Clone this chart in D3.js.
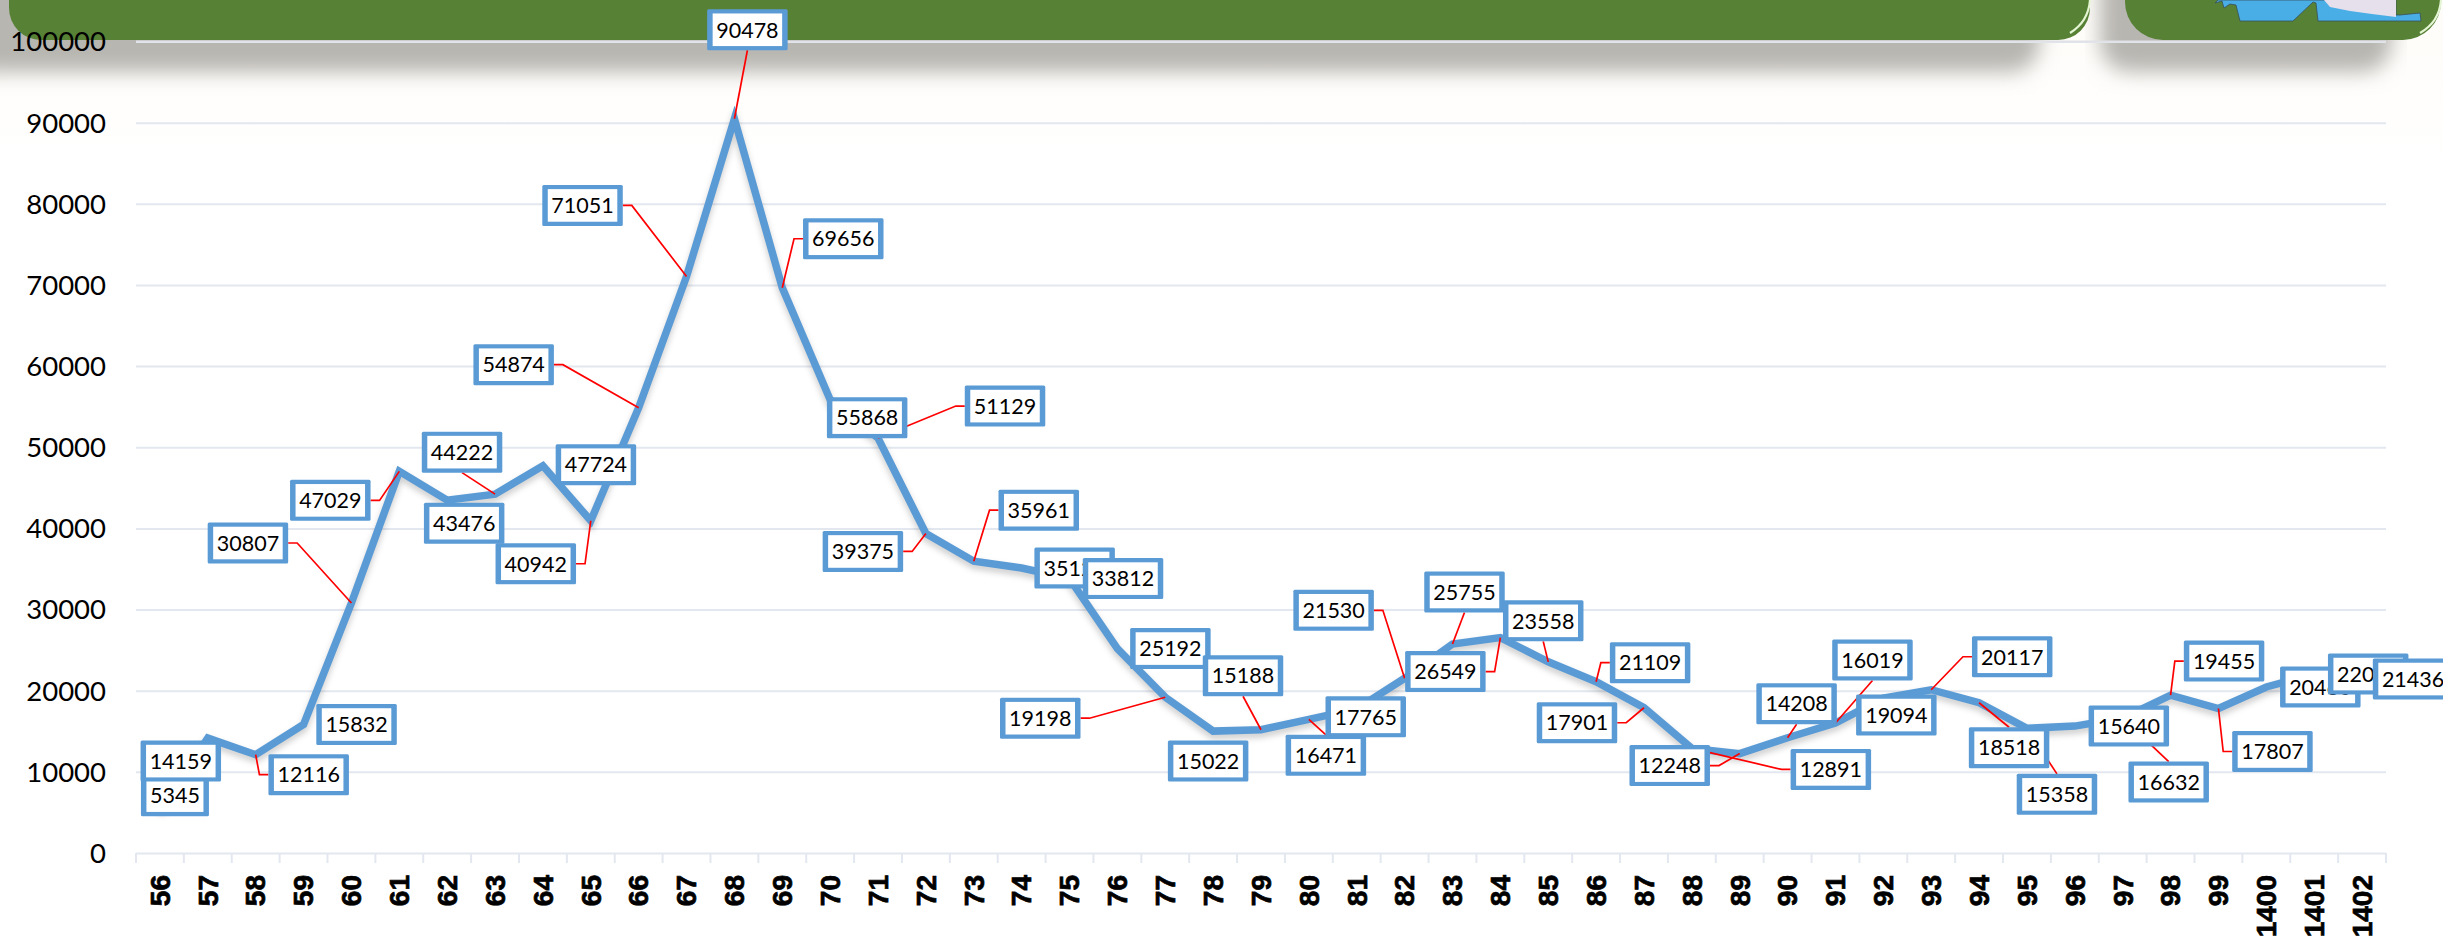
<!DOCTYPE html>
<html>
<head>
<meta charset="utf-8">
<script src="https://cdn.jsdelivr.net/npm/d3@7"></script>
<style>
html,body{margin:0;padding:0;background:#fff;overflow:hidden}
svg{display:block}
</style>
</head>
<body>
<div id="chart"></div>
<script>
const categories = ["56","57","58","59","60","61","62","63","64","65","66","67","68","69","70","71","72","73","74","75","76","77","78","79","80","81","82","83","84","85","86","87","88","89","90","91","92","93","94","95","96","97","98","99","1400","1401","1402"];
const values = [5345,14159,12116,15832,30807,47029,43476,44222,47724,40942,54874,71051,90478,69656,55868,51129,39375,35961,35120,33812,25192,19198,15022,15188,16471,17765,21530,25755,26549,23558,21109,17901,12891,12248,14208,16019,19094,20117,18518,15358,15640,16632,19455,17807,20460,22050,21436];
const yTicks = [0,10000,20000,30000,40000,50000,60000,70000,80000,90000,100000];

// Hand-placed label offsets from each point, and the side of the label its leader leaves from
const labelDx = [15,-27,53,53,-103.5,-69,17,-33,53,-55,-125,-104,13,61,37,127,-63,65,53,53.5,53,-125,-5,-18,17,9,-71,12,-55,-5,54,-67,139,-70,9,37,13,81,30,30,54,46,53.5,54,54,54,51];
const labelDy = [-14,23,20,0,-60,29,23,-42,-1,43,-43,-71,-89,-49,18,-32,18,-51,0,0,0,21,30,-54,36,8,-68,-52,34,-41,-19,15,21,12,-34,-63,17,-33,45,66,0,64,-34,43,0,0,0];
const leaderSide = ["","","l","","r","r","","b","","r","r","r","b","l","","l","r","l","","","","r","","b","t","","r","b","r","b","l","r","l","r","b","b","","l","t","t","","t","l","l","","",""];

const W = 2443, H = 939;
const margin = {left:136, right:57, top:41.5, bottom:86};
const innerRight = W - margin.right, baseY = H - margin.bottom;

const svg = d3.select("#chart").append("svg").attr("width",W).attr("height",H)
  .style("font-family","Lato, sans-serif");
const defs = svg.append("defs");
defs.append("filter").attr("id","blur").attr("x","-5%").attr("y","-80%").attr("width","110%").attr("height","260%")
  .append("feGaussianBlur").attr("stdDeviation",10);
const warm = defs.append("linearGradient").attr("id","warm").attr("x1",0).attr("x2",0).attr("y1",0).attr("y2",1);
warm.append("stop").attr("offset",0).attr("stop-color","#fefcf8");
warm.append("stop").attr("offset",1).attr("stop-color","#ffffff");

const x = d3.scaleBand().domain(categories).range([margin.left,innerRight]);
const y = d3.scaleLinear().domain([0,100000]).range([baseY,margin.top]);

// ---- decorated header behind the chart
const head = svg.append("g");
head.append("rect").attr("width",W).attr("height",170).attr("fill","url(#warm)");
head.append("rect").attr("x",-40).attr("y",-60).attr("width",2080).attr("height",132).attr("rx",30).attr("fill","#b8b6b1").attr("filter","url(#blur)");
head.append("rect").attr("x",2100).attr("y",-60).attr("width",292).attr("height",132).attr("rx",30).attr("fill","#b8b6b1").attr("filter","url(#blur)");

// ---- y axis + gridlines
const yAxis = svg.append("g").attr("transform",`translate(${margin.left},0)`)
  .call(d3.axisLeft(y).tickValues(yTicks).tickFormat(d3.format("d")).tickSize(-(innerRight-margin.left)).tickPadding(30));
yAxis.select(".domain").remove();
yAxis.selectAll(".tick line").attr("stroke","#e3e7ef").attr("stroke-width",2);
yAxis.selectAll(".tick text").remove();

// header panels
const panels = svg.append("g");
panels.append("rect").attr("x",9).attr("y",-60).attr("width",2081).attr("height",100).attr("rx",32).attr("fill","#578135");
panels.append("rect").attr("x",2125).attr("y",-60).attr("width",316).attr("height",100).attr("rx",38).attr("fill","#578135");
panels.append("path").attr("d","M2090,0 C2089,14 2083,25 2070,33").attr("fill","none").attr("stroke","#e4f5d4").attr("stroke-width",2.2);
panels.append("path").attr("d","M2441,0 C2440,14 2434,25 2420,33").attr("fill","none").attr("stroke","#e4f5d4").attr("stroke-width",2.2);
panels.append("path").attr("d","M2215,3 L2222,1 L2224,8 L2230,4 L2236,5 L2240,21 L2293,21 L2312,3 L2313,2 L2316,3 L2318,21 L2421,21 L2420,13 L2400,15 L2396,15 L2396,0 L2218,0 Z")
  .attr("fill","#4aaee6").attr("stroke","#37505c").attr("stroke-width",0.8);
panels.append("path").attr("d","M2324,0 L2330,7 L2350,11 L2372,14 L2396,17 L2396,0 Z").attr("fill","#e6e0ec");
panels.append("rect").attr("x",margin.left).attr("y",y(100000)-1).attr("width",innerRight-margin.left).attr("height",2).attr("fill","#e0e2e8");

// ---- x axis
const xAxis = svg.append("g").attr("transform",`translate(0,${baseY})`)
  .call(d3.axisBottom(x).tickSize(0).tickPadding(0));
xAxis.select(".domain").remove();
xAxis.selectAll(".tick text")
  .attr("transform","rotate(-90)")
  .attr("x",-22).attr("y",0).attr("dy","0.35em")
  .attr("text-anchor","end")
  .style("font-family","'Liberation Sans', Arial, sans-serif")
  .style("font-weight","bold").style("font-size","28px")
  .attr("fill","#000").attr("stroke","#000").attr("stroke-width",0.7);
const edges = categories.map(c=>x(c)).concat([innerRight]);
svg.append("g").selectAll("line").data(edges).join("line")
  .attr("x1",d=>d).attr("x2",d=>d).attr("y1",baseY).attr("y2",baseY+10)
  .attr("stroke","#e3e7ef").attr("stroke-width",2);

// y tick labels on top of the header
svg.append("g").selectAll("text").data(yTicks).join("text")
  .attr("x",106).attr("y",d=>y(d)).attr("dy","0.36em").attr("text-anchor","end")
  .style("font-size","27.5px").attr("fill","#000")
  .text(d3.format("d"));

// ---- line
const px = (d,i)=>x(categories[i])+x.bandwidth()/2;
const py = d=>y(d);
svg.append("path").datum(values)
  .attr("d",d3.line().x(px).y(py))
  .attr("fill","none").attr("stroke","#5b9bd5").attr("stroke-width",7.5)
  .attr("stroke-linejoin","miter").attr("stroke-miterlimit",10)
  .style("filter","drop-shadow(0 4px 3px rgba(0,0,0,0.2))");

// ---- labels and leaders
const labels = values.map((v,i)=>{
  const text = String(v), w = text.length===4 ? 68 : 80.5, h = 41;
  const cx = px(v,i)+labelDx[i], cy = py(v)+labelDy[i];
  return {text,w,h,cx,cy,side:leaderSide[i],px:px(v,i),py:py(v)};
});
const stub = 9;
const leaderPath = d=>{
  const p = d3.path();
  if(d.side==="r"){p.moveTo(d.cx+d.w/2,d.cy);p.lineTo(d.cx+d.w/2+stub,d.cy);}
  else if(d.side==="l"){p.moveTo(d.cx-d.w/2,d.cy);p.lineTo(d.cx-d.w/2-stub,d.cy);}
  else if(d.side==="t"){p.moveTo(d.cx,d.cy-d.h/2);}
  else {p.moveTo(d.cx,d.cy+d.h/2);}
  p.lineTo(d.px,d.py);
  return p.toString();
};
svg.append("g").selectAll("path").data(labels.filter(d=>d.side)).join("path")
  .attr("d",leaderPath).attr("fill","none").attr("stroke","#ff0000").attr("stroke-width",1.7);

const lab = svg.append("g").selectAll("g").data(labels).join("g")
  .attr("transform",d=>`translate(${d.cx},${d.cy})`);
lab.append("rect")
  .attr("x",d=>-d.w/2).attr("y",d=>-d.h/2).attr("width",d=>d.w).attr("height",d=>d.h)
  .attr("rx",1.5).attr("fill","#5b9bd5");
lab.append("rect")
  .attr("x",d=>-d.w/2+5.5).attr("y",d=>-d.h/2+4.2).attr("width",d=>d.w-11).attr("height",d=>d.h-8.4)
  .attr("fill","#fff");
lab.append("text").attr("text-anchor","middle").attr("dy","0.36em")
  .style("font-size","21.5px").attr("fill","#000").text(d=>d.text);
</script>
</body>
</html>
